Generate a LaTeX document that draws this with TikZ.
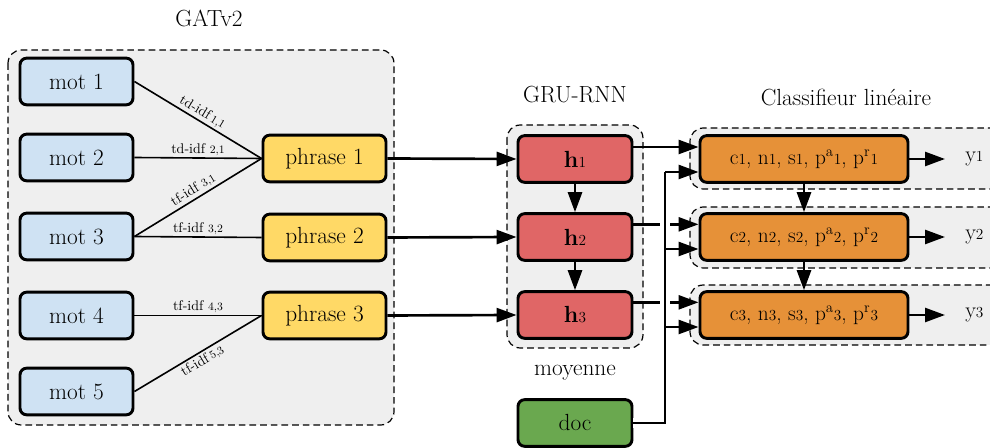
\documentclass[tikz,border=0pt]{standalone}
\usetikzlibrary{arrows.meta}
\definecolor{motC}{HTML}{CFE2F3}
\definecolor{phrC}{HTML}{FFD966}
\definecolor{hC}{HTML}{E06666}
\definecolor{cC}{HTML}{E69138}
\definecolor{docC}{HTML}{6AA84F}
\definecolor{grpC}{HTML}{EFEFEF}
\newcommand{\mysmd}[1]{{\fontsize{11.5}{13}\selectfont #1}}
\newcommand{\mylsb}[1]{{\fontsize{8.5}{9}\selectfont #1}}
\begin{document}
\begin{tikzpicture}[x=0.75pt,y=-0.75pt,
  box/.style={draw=black, line width=2.2pt, rounded corners=5pt, inner sep=0pt,
    minimum height=35pt, font=\fontsize{17.5}{19}\selectfont},
  motbox/.style={box, fill=motC, minimum width=84.75pt},
  phrbox/.style={box, fill=phrC, minimum width=92.25pt},
  hbox/.style={box, fill=hC, minimum width=85.5pt},
  cbox/.style={box, fill=cC, minimum width=156pt, font=\fontsize{16}{18}\selectfont},
  docbox/.style={box, fill=docC, minimum width=85.5pt},
  grp/.style={draw=black, line width=0.9pt, fill=grpC, rounded corners=10pt, dash pattern=on 5pt off 3pt},
  wline/.style={draw=black, line width=1.2pt},
  lab/.style={font=\fontsize{10.5}{11}\selectfont, inner sep=1.5pt},
  arr/.style={draw=black, line width=2pt, -{Triangle[length=15pt,width=10.5pt]}},
  kline/.style={draw=black, line width=2pt},
  halo/.style={preaction={draw=white, line width=8pt}},
  title/.style={font=\fontsize{17.5}{19}\selectfont}
]
\useasboundingbox (0,0) rectangle (990,448);
% group boxes
\path[grp] (8,50) rectangle (394,425);
\path[grp] (507,125) rectangle (643,348);
\path[grp] (690,128) rectangle (1010,189);
\path[grp] (690,207) rectangle (1010,268);
\path[grp] (690,285) rectangle (1010,345);
% titles
\node[title] (tg) at (209,18) {GATv2};
\node[title] (tr) at (575,95) {GRU-RNN};
\node[title] (tc) at (846,98) {Classifieur linéaire};
\node[title] (tm) at (575,373) {moyenne};
% mots
\node[motbox] (m1) at (76.5,81.5) {mot 1};
\node[motbox] (m2) at (76.5,157.5) {mot 2};
\node[motbox] (m3) at (76.5,236.5) {mot 3};
\node[motbox] (m4) at (76.5,315.5) {mot 4};
\node[motbox] (m5) at (76.5,391.5) {mot 5};
% phrases
\node[phrbox] (p1) at (324.5,158.5) {phrase 1};
\node[phrbox] (p2) at (324.5,237.5) {phrase 2};
\node[phrbox] (p3) at (324.5,315.5) {phrase 3};
% h
\node[hbox] (h1) at (575,159) {\textbf{h}\mysmd{1}};
\node[hbox] (h2) at (575,237) {\textbf{h}\mysmd{2}};
\node[hbox] (h3) at (575,315) {\textbf{h}\mysmd{3}};
\node[docbox] (d) at (575,423) {doc};
% classifier
\node[cbox] (c1) at (804,159) {c\mysmd{1}, n\mysmd{1}, s\mysmd{1}, p\textsuperscript{a}\mysmd{1}, p\textsuperscript{r}\mysmd{1}};
\node[cbox] (c2) at (804,237) {c\mysmd{2}, n\mysmd{2}, s\mysmd{2}, p\textsuperscript{a}\mysmd{2}, p\textsuperscript{r}\mysmd{2}};
\node[cbox] (c3) at (804,315) {c\mysmd{3}, n\mysmd{3}, s\mysmd{3}, p\textsuperscript{a}\mysmd{3}, p\textsuperscript{r}\mysmd{3}};
\node[title, inner xsep=15pt, anchor=west, font=\fontsize{16.5}{18}\selectfont] (y1) at (945,159) {y\mysmd{1}};
\node[title, inner xsep=15pt, anchor=west, font=\fontsize{16.5}{18}\selectfont] (y2) at (945,237) {y\mysmd{2}};
\node[title, inner xsep=15pt, anchor=west, font=\fontsize{16.5}{18}\selectfont] (y3) at (945,315) {y\mysmd{3}};
% word edges
\draw[wline] (m1.east) -- node[lab, sloped, above] {td-idf\,\mylsb{1,1}} (p1.west);
\draw[wline] (m2.east) -- node[lab, above] {td-idf \mylsb{2,1}} (p1.west);
\draw[wline] (m3.east) -- node[lab, sloped, above] {tf-idf \mylsb{3,1}} (p1.west);
\draw[wline] (m3.east) -- node[lab, above] {tf-idf \mylsb{3,2}} (p2.west);
\draw[wline] (m4.east) -- node[lab, above] {tf-idf \mylsb{4,3}} (p3.west);
\draw[wline] (m5.east) -- node[lab, sloped, below] {tf-idf\,\mylsb{5,3}} (p3.west);
% phrase -> h
\draw[arr] (p1.east) -- (h1.west);
\draw[arr] (p2.east) -- (h2.west);
\draw[arr] (p3.east) -- (h3.west);
\draw[arr] (h1.south) -- (h2.north);
\draw[arr] (h2.south) -- (h3.north);
% h -> c
\draw[arr] ([yshift=9pt]h1.east) -- ([yshift=9pt]c1.west);
\draw[arr] ([yshift=9.5pt]h2.east) -- ([yshift=9.5pt]c2.west);
\draw[arr] ([yshift=9.5pt]h3.east) -- ([yshift=9.5pt]c3.west);
% doc bus
\coordinate (b1) at (665,172);
\coordinate (b2) at (665,249);
\coordinate (b3) at (665,327);
\draw[kline, halo] (d.east) -| (b1);
\draw[arr] (b1) -- (b1 -| c1.west);
\draw[arr] (b2) -- (b2 -| c2.west);
\draw[arr] (b3) -- (b3 -| c3.west);
% classifier chain
\draw[arr] (c1.south) -- (c2.north);
\draw[arr] (c2.south) -- (c3.north);
\draw[arr] (c1.east) -- (y1.west);
\draw[arr] (c2.east) -- (y2.west);
\draw[arr] (c3.east) -- (y3.west);
\end{tikzpicture}
\end{document}
